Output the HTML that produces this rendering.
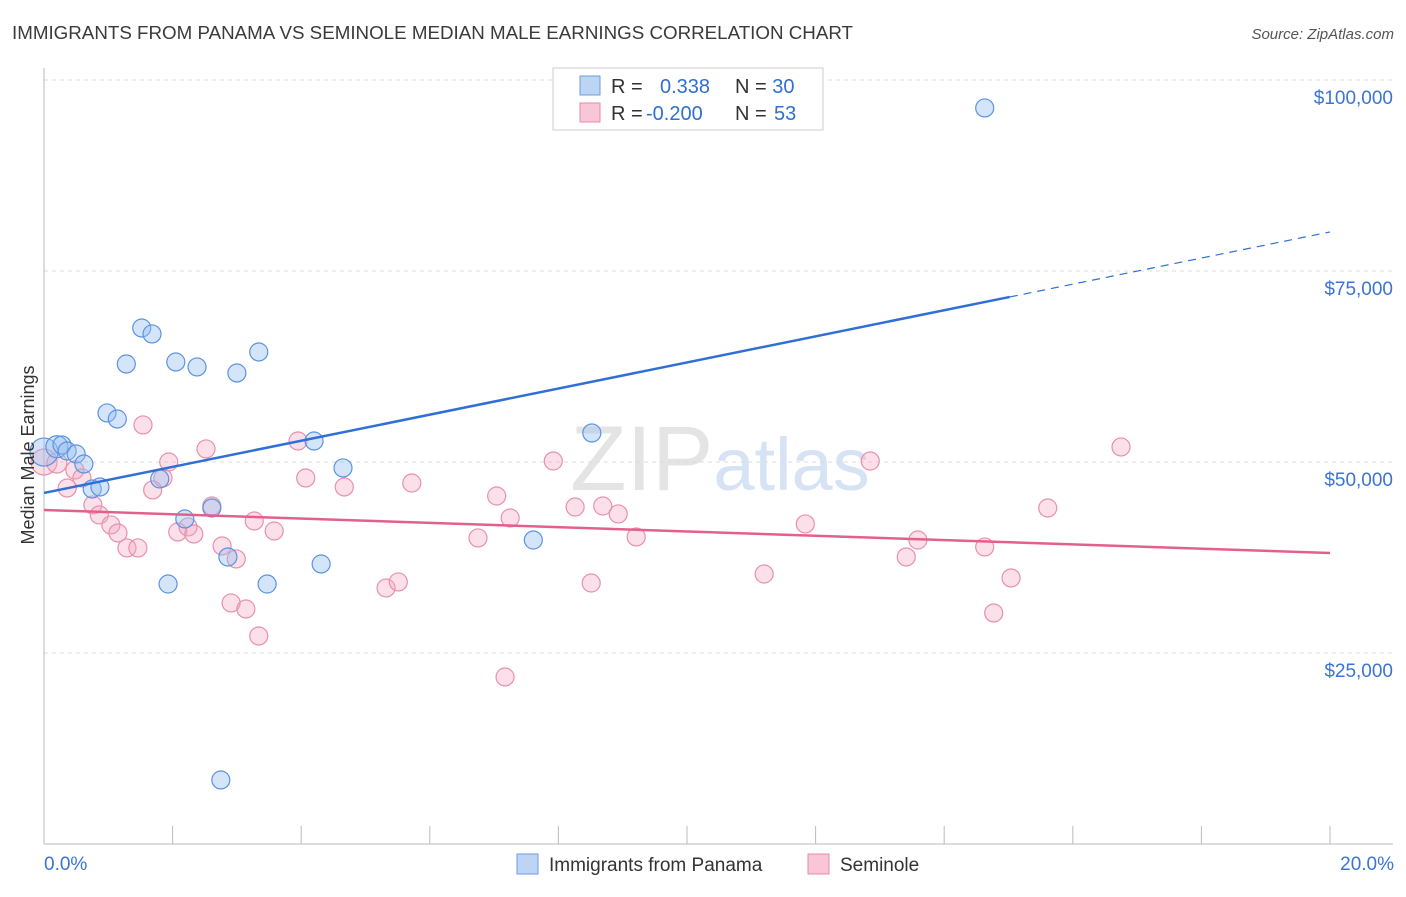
<!DOCTYPE html>
<html><head><meta charset="utf-8"><style>
body{margin:0;background:#fff;font-family:"Liberation Sans",sans-serif;}
svg text{font-family:"Liberation Sans",sans-serif;}
</style></head><body>
<svg id="chart" width="1406" height="892" xmlns="http://www.w3.org/2000/svg">
<text x="12" y="39" font-size="18.7" fill="#3a3a3a" textLength="841" lengthAdjust="spacingAndGlyphs">IMMIGRANTS FROM PANAMA VS SEMINOLE MEDIAN MALE EARNINGS CORRELATION CHART</text>
<text x="1394" y="39" font-size="15" fill="#555" font-style="italic" text-anchor="end">Source: ZipAtlas.com</text>
<text x="720" y="490" font-size="92" text-anchor="middle" fill="#e4e4e4" font-family="Liberation Serif"><tspan>ZIP</tspan><tspan fill="#d6e3f5" font-family="Liberation Sans" font-size="74">atlas</tspan></text>
<g id="grid"></g>
<g id="axes"></g>
<g id="points"></g>
<g id="trends"></g>
<text transform="translate(34,455) rotate(-90)" font-size="18" fill="#333" text-anchor="middle">Median Male Earnings</text>
<g>
<rect x="553" y="68" width="270" height="62" fill="#fff" stroke="#ccc"/>
<rect x="580" y="76" width="20" height="19" fill="#bcd5f5" stroke="#6b9de0"/>
<text x="611" y="93" font-size="20" fill="#333">R = <tspan fill="#2f6fd0" x="660">0.338</tspan><tspan x="735" fill="#333">N = </tspan><tspan fill="#2f6fd0">30</tspan></text>
<rect x="580" y="103" width="20" height="19" fill="#f8c6d6" stroke="#e88aa8"/>
<text x="611" y="120" font-size="20" fill="#333">R = <tspan fill="#2f6fd0" x="646">-0.200</tspan><tspan x="735" fill="#333">N = </tspan><tspan fill="#2f6fd0" x="774">53</tspan></text>
</g>
<g>
<rect x="517" y="854" width="21" height="20" fill="#bcd5f5" stroke="#6b9de0"/>
<text x="549" y="871" font-size="19" fill="#333">Immigrants from Panama</text>
<rect x="808" y="854" width="21" height="20" fill="#f8c6d6" stroke="#e88aa8"/>
<text x="840" y="871" font-size="19" fill="#333">Seminole</text>
</g>
</svg>
<script>
const yTicks=[25000,50000,75000,100000];
const yTickLabels=["$25,000","$50,000","$75,000","$100,000"];
const xTicks=[0,2,4,6,8,10,12,14,16,18,20];
const xEndLabels=["0.0%","20.0%"];
const panamaX=[0,0.20,0.28,0.36,0.50,0.62,0.75,0.87,0.98,1.14,1.28,1.52,1.68,1.80,1.93,2.05,2.19,2.38,2.61,2.75,2.86,3.00,3.34,3.47,4.20,4.31,4.65,7.61,8.52,14.63];
const panamaY=[51300,52000,52230,51440,51050,49740,46470,46730,56420,55630,62830,67540,66760,47780,34030,63090,42540,62440,43980,8380,37570,61650,64400,34030,52750,36650,49220,39790,53800,96340];
const panamaR=[14,11,9,9,9,9,9,9,9,9,9,9,9,9,9,9,9,9,9,9,9,9,9,9,9,9,9,9,9,9];
const seminoleX=[0,0.20,0.36,0.48,0.59,0.76,0.86,1.04,1.15,1.29,1.46,1.54,1.69,1.85,1.94,2.08,2.24,2.33,2.52,2.61,2.77,2.91,2.99,3.14,3.27,3.34,3.58,3.95,4.07,4.67,5.32,5.51,5.72,6.75,7.04,7.17,7.25,7.92,8.26,8.51,8.69,8.93,9.21,11.20,11.84,12.85,13.41,13.59,14.63,14.77,15.04,15.61,16.75];
const seminoleY=[50000,49870,46600,48960,47910,44380,43070,41760,40710,38750,38750,54850,46340,47910,50000,40840,41500,40580,51710,44240,39010,31550,37310,30760,42280,27230,40970,52750,47910,46730,33510,34300,47250,40060,45550,21860,42670,50130,44110,34160,44240,43200,40190,35340,41890,50130,37570,39790,38880,30240,34820,43980,51970];
const seminoleR=[13,10,9,9,9,9,9,9,9,9,9,9,9,9,9,9,9,9,9,9,9,9,9,9,9,9,9,9,9,9,9,9,9,9,9,9,9,9,9,9,9,9,9,9,9,9,9,9,9,9,9,9,9];
const panamaTrend=[45950,80110];
const panamaSolidEnd=15.02;
const seminoleTrend=[43720,38090];

const NS="http://www.w3.org/2000/svg";
const X0=44,X1=1330,YB=844,PXPER=191/25000;
function sx(v){return X0+(v/20)*(X1-X0);}
function sy(v){return YB-v*PXPER;}
function mk(tag,attrs,parent){const e=document.createElementNS(NS,tag);for(const k in attrs)e.setAttribute(k,attrs[k]);parent.appendChild(e);return e;}
const grid=document.getElementById('grid'),axes=document.getElementById('axes'),pts=document.getElementById('points'),tr=document.getElementById('trends');
yTicks.forEach((t,i)=>{
 const l=mk('line',{x1:X0,x2:1393,y1:sy(t),y2:sy(t),stroke:'#ddd','stroke-dasharray':'4,4'},grid);
 
 
 const tx=mk('text',{x:1393,y:sy(t)+24,'font-size':19,fill:'#3a74d4','text-anchor':'end'},axes);
 tx.textContent=yTickLabels[i];
 
 
});
const ya=mk('line',{x1:X0,x2:X0,y1:68,y2:YB,stroke:'#bbb'},axes);


const xa=mk('line',{x1:X0,x2:1393,y1:YB,y2:YB,stroke:'#bbb'},axes);


xTicks.forEach(t=>{
 const l=mk('line',{x1:sx(t),x2:sx(t),y1:YB,y2:YB-18,stroke:'#bbb'},axes);
 
 
});
[[0,'start'],[20,'end']].forEach((p,i)=>{
 const tx=mk('text',{x:sx(p[0])+(i?64:0),y:870,'font-size':19,fill:'#3a74d4','text-anchor':i?'end':'start'},axes);
 tx.textContent=xEndLabels[i];
 
 
});
seminoleX.forEach((v,i)=>{
 const c=mk('circle',{cx:sx(v),cy:sy(seminoleY[i]),r:seminoleR[i],fill:'rgba(244,165,192,0.35)',stroke:'#e890ad','stroke-width':1.2},pts);
 
 
});
panamaX.forEach((v,i)=>{
 const c=mk('circle',{cx:sx(v),cy:sy(panamaY[i]),r:panamaR[i],fill:'rgba(150,190,240,0.4)',stroke:'#5b93e0','stroke-width':1.2},pts);
 
 
});
const bAt=x=>panamaTrend[0]+(panamaTrend[1]-panamaTrend[0])*x/20;
const b1=mk('line',{x1:sx(0),y1:sy(bAt(0)),x2:sx(panamaSolidEnd),y2:sy(bAt(panamaSolidEnd)),stroke:'#2f6fd6','stroke-width':2.5},tr);


const b2=mk('line',{x1:sx(panamaSolidEnd),y1:sy(bAt(panamaSolidEnd)),x2:sx(20),y2:sy(bAt(20)),stroke:'#2f6fd6','stroke-width':1.2,'stroke-dasharray':'8,6'},tr);


const p1=mk('line',{x1:sx(0),y1:sy(seminoleTrend[0]),x2:sx(20),y2:sy(seminoleTrend[1]),stroke:'#e4608c','stroke-width':2.5},tr);


</script>
</body></html>
